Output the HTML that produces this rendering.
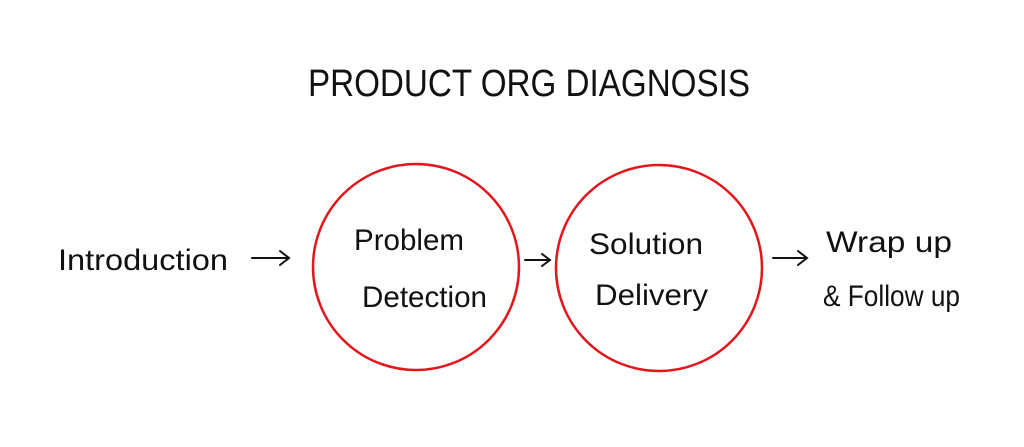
<!DOCTYPE html>
<html><head><meta charset="utf-8"><style>
html,body{margin:0;padding:0;background:#fff;}
svg{display:block;}
text{font-family:"Liberation Sans",sans-serif;fill:#111;}
</style></head><body>
<svg width="1024" height="447" viewBox="0 0 1024 447" xmlns="http://www.w3.org/2000/svg">
<rect width="1024" height="447" fill="#fff"/>
<text x="308" y="96" font-size="38" textLength="442" lengthAdjust="spacingAndGlyphs" style="font-weight:normal">PRODUCT ORG DIAGNOSIS</text>
<circle cx="416" cy="267" r="103" fill="none" stroke="#e3161c" stroke-width="2.5"/>
<circle cx="659" cy="268" r="103" fill="none" stroke="#e3161c" stroke-width="2.5"/>
<text x="58" y="270" font-size="30" textLength="170" lengthAdjust="spacingAndGlyphs">Introduction</text>
<g stroke="#111" stroke-width="2" fill="none" stroke-linecap="round">
<path d="M252 258 L288 258 M280 251 L289 258 L280 265"/>
<path d="M525 260 L549 260 M542 254 L550 260 L542 266"/>
<path d="M773 258 L806 258 M798 251 L807 258 L798 265"/>
</g>
<text x="354" y="250" font-size="30" textLength="110" lengthAdjust="spacingAndGlyphs">Problem</text>
<text x="362" y="307" font-size="30" textLength="125" lengthAdjust="spacingAndGlyphs">Detection</text>
<text x="589" y="254" font-size="30" textLength="114" lengthAdjust="spacingAndGlyphs">Solution</text>
<text x="595" y="305" font-size="30" textLength="113" lengthAdjust="spacingAndGlyphs">Delivery</text>
<text x="826" y="252" font-size="30" textLength="126" lengthAdjust="spacingAndGlyphs">Wrap up</text>
<text x="823" y="306" font-size="30" textLength="137" lengthAdjust="spacingAndGlyphs">&amp; Follow up</text>
</svg>
</body></html>
